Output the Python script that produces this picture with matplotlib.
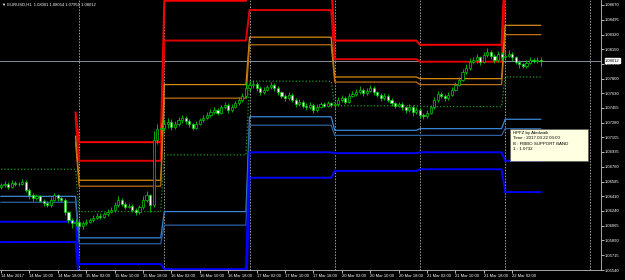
import numpy as np
import matplotlib.pyplot as plt
from matplotlib.patches import Rectangle

plt.rcParams['font.family'] = ['Liberation Sans', 'DejaVu Sans']

# EURUSD H1 candles, bar 0 = 14 Mar 2017 02:00
first_open = 1.0652
closes = [1.0654, 1.0656, 1.0652, 1.0657, 1.0655, 1.0656, 1.0658, 1.0649, 1.0642, 1.0639,
          1.0641, 1.0636, 1.0633, 1.0631, 1.0637, 1.0642, 1.0639, 1.0637, 1.0622, 1.0613,
          1.0609, 1.0611, 1.0606, 1.0609, 1.0611, 1.0613, 1.0616, 1.0618, 1.0617, 1.0620,
          1.0623, 1.0625, 1.0631, 1.0637, 1.0632, 1.0629, 1.0630, 1.0625, 1.0623, 1.0628,
          1.0637, 1.0642, 1.0631, 1.0708, 1.0720, 1.0722, 1.0726, 1.0729, 1.0723, 1.0727,
          1.0731, 1.0734, 1.0730, 1.0726, 1.0722, 1.0727, 1.0731, 1.0734, 1.0737, 1.0741,
          1.0743, 1.0740, 1.0746, 1.0749, 1.0743, 1.0747, 1.0751, 1.0755, 1.0760, 1.0769,
          1.0772, 1.0774, 1.0769, 1.0764, 1.0767, 1.0770, 1.0773, 1.0769, 1.0764, 1.0760,
          1.0757, 1.0761, 1.0755, 1.0750, 1.0753, 1.0748, 1.0746, 1.0749, 1.0743, 1.0747,
          1.0750, 1.0748, 1.0751, 1.0749, 1.0750, 1.0755, 1.0757, 1.0753, 1.0760, 1.0762,
          1.0764, 1.0767, 1.0763, 1.0766, 1.0769, 1.0764, 1.0761, 1.0757, 1.0760, 1.0755,
          1.0751, 1.0748, 1.0750, 1.0746, 1.0743, 1.0747, 1.0741, 1.0743, 1.0737, 1.0736,
          1.0740, 1.0746, 1.0755, 1.0762, 1.0760, 1.0757, 1.0761, 1.0767, 1.0773, 1.0779,
          1.0788, 1.0793, 1.0800, 1.0802, 1.0805, 1.0800, 1.0808, 1.0812, 1.0807, 1.0802,
          1.0809, 1.0806, 1.0807, 1.0809, 1.0805, 1.0800, 1.0797, 1.0795, 1.0799, 1.0802,
          1.0801, 1.0802, 1.08012]
highs = [1.0657, 1.0659, 1.0658, 1.0660, 1.0659, 1.0658, 1.0662, 1.0660, 1.0651, 1.0645,
         1.0644, 1.0643, 1.0638, 1.0635, 1.0640, 1.0645, 1.0644, 1.0641, 1.0639, 1.0624,
         1.0616, 1.0614, 1.0613, 1.0612, 1.0614, 1.0616, 1.0619, 1.0621, 1.0621, 1.0623,
         1.0626, 1.0629, 1.0634, 1.0641, 1.0639, 1.0634, 1.0633, 1.0632, 1.0627, 1.0631,
         1.0641, 1.0647, 1.0644, 1.0718, 1.0726, 1.0728, 1.0731, 1.0733, 1.0732, 1.0730,
         1.0735, 1.0737, 1.0736, 1.0732, 1.0728, 1.0730, 1.0734, 1.0737, 1.0741, 1.0744,
         1.0747, 1.0745, 1.0749, 1.0753, 1.0751, 1.0750, 1.0754, 1.0758, 1.0763, 1.0776,
         1.0777, 1.0778, 1.0776, 1.0771, 1.0770, 1.0773, 1.0776, 1.0775, 1.0771, 1.0766,
         1.0762, 1.0764, 1.0763, 1.0757, 1.0756, 1.0755, 1.0751, 1.0752, 1.0751, 1.0750,
         1.0753, 1.0752, 1.0754, 1.0753, 1.0753, 1.0758, 1.0761, 1.0759, 1.0763, 1.0766,
         1.0768, 1.0771, 1.0769, 1.0769, 1.0773, 1.0771, 1.0766, 1.0763, 1.0763, 1.0762,
         1.0757, 1.0753, 1.0753, 1.0752, 1.0748, 1.0750, 1.0749, 1.0746, 1.0745, 1.0740,
         1.0743, 1.0749, 1.0758, 1.0765, 1.0764, 1.0762, 1.0764, 1.0770, 1.0776, 1.0782,
         1.0791, 1.0797, 1.0804, 1.0806, 1.0809, 1.0807, 1.0812, 1.0816, 1.0814, 1.0809,
         1.0813, 1.0812, 1.0813, 1.0814, 1.0811, 1.0807, 1.0802, 1.0799, 1.0802, 1.0805,
         1.0804, 1.0805, 1.0805]
lows = [1.0650, 1.0652, 1.0650, 1.0651, 1.0653, 1.0653, 1.0654, 1.0646, 1.0638, 1.0636,
        1.0637, 1.0634, 1.0630, 1.0628, 1.0629, 1.0635, 1.0636, 1.0634, 1.0619, 1.0610,
        1.0604, 1.0606, 1.0601, 1.0603, 1.0607, 1.0609, 1.0611, 1.0614, 1.0614, 1.0615,
        1.0618, 1.0621, 1.0623, 1.0629, 1.0630, 1.0626, 1.0627, 1.0622, 1.0619, 1.0620,
        1.0626, 1.0634, 1.0622, 1.0628, 1.0703, 1.0714, 1.0718, 1.0722, 1.0719, 1.0720,
        1.0724, 1.0728, 1.0727, 1.0723, 1.0719, 1.0720, 1.0725, 1.0729, 1.0732, 1.0735,
        1.0738, 1.0737, 1.0738, 1.0744, 1.0740, 1.0741, 1.0745, 1.0749, 1.0752, 1.0757,
        1.0766, 1.0769, 1.0766, 1.0761, 1.0762, 1.0765, 1.0768, 1.0766, 1.0761, 1.0757,
        1.0754, 1.0755, 1.0752, 1.0747, 1.0748, 1.0745, 1.0743, 1.0744, 1.0740, 1.0741,
        1.0745, 1.0746, 1.0746, 1.0747, 1.0745, 1.0748, 1.0753, 1.0750, 1.0751, 1.0758,
        1.0760, 1.0762, 1.0760, 1.0761, 1.0764, 1.0761, 1.0758, 1.0754, 1.0755, 1.0752,
        1.0748, 1.0745, 1.0746, 1.0743, 1.0740, 1.0741, 1.0736, 1.0738, 1.0733, 1.0732,
        1.0734, 1.0738, 1.0744, 1.0753, 1.0757, 1.0754, 1.0755, 1.0759, 1.0765, 1.0771,
        1.0777, 1.0785, 1.0790, 1.0797, 1.0799, 1.0796, 1.0798, 1.0805, 1.0803, 1.0798,
        1.0800, 1.0802, 1.0803, 1.0805, 1.0801, 1.0797, 1.0793, 1.0792, 1.0793, 1.0797,
        1.0798, 1.0799, 1.0795]

# Fibo band levels, one value per trading day (14, 15, 16, 17, 20, 21, 22 Mar)
day_lengths = [22, 24, 24, 24, 24, 24, 11]
red_1 = [1.0740, 1.0705, 1.0872, 1.0892, 1.0825, 1.0820, 1.0918]
red_2 = [1.0734, 1.0683, 1.0825, 1.0861, 1.0803, 1.0800, 1.0881]
orange_1 = [1.0712, 1.0660, 1.0773, 1.0829, 1.0782, 1.0780, 1.0843]
orange_2 = [1.0705, 1.0653, 1.0757, 1.0820, 1.0776, 1.0773, 1.0832]
pivot = [1.0673, 1.0623, 1.0690, 1.0777, 1.0748, 1.0747, 1.0782]
support_1 = [1.0641, 1.0592, 1.0623, 1.0735, 1.0719, 1.0721, 1.0732]
support_2 = [1.0634, 1.0585, 1.0607, 1.0725, 1.0713, 1.0713, 1.0721]
blue_1 = [1.0611, 1.0561, 1.0555, 1.0693, 1.0692, 1.0693, 1.0683]
blue_2 = [1.0587, 1.0539, 1.0508, 1.0663, 1.0671, 1.0673, 1.0646]

separators = [22, 46, 70, 94, 118, 142, 166]
current_price = 1.08012

price_ticks = [1.05540, 1.05715, 1.05890, 1.06065, 1.06240, 1.06410, 1.06585, 1.06760,
               1.06935, 1.07105, 1.07280, 1.07455, 1.07630, 1.07800, 1.07975, 1.08150,
               1.08320, 1.08495, 1.08670]
time_ticks = list(range(0, 145, 8))
time_labels = ['14 Mar 2017', '14 Mar 10:00', '14 Mar 18:00', '15 Mar 02:00', '15 Mar 10:00',
               '15 Mar 18:00', '16 Mar 02:00', '16 Mar 10:00', '16 Mar 18:00', '17 Mar 02:00',
               '17 Mar 10:00', '17 Mar 18:00', '20 Mar 02:00', '20 Mar 10:00', '20 Mar 18:00',
               '21 Mar 02:00', '21 Mar 10:00', '21 Mar 18:00', '22 Mar 02:00']

closes = np.array(closes)
opens = np.r_[first_open, closes[:-1]]
bars = np.arange(len(closes))

fig = plt.figure(figsize=(6.25, 2.8), dpi=100, facecolor='black')
ax = fig.add_axes([0, 10 / 280, 601 / 625, 270 / 280], facecolor='black')

# band lines (upper bands of first day only show on its last bar)
bands = [(red_1, '#ff0000', 1.4, '-', True), (red_2, '#e00000', 1.4, '-', True),
         (orange_1, '#d88a10', 0.9, '-', True), (orange_2, '#c07010', 0.9, '-', True),
         (pivot, '#1f9a1f', 0.9, ':', False), (support_1, '#3a86d6', 0.9, '-', False),
         (support_2, '#2c5f9e', 0.9, '-', False), (blue_1, '#0000ff', 1.4, '-', False),
         (blue_2, '#0000ff', 1.4, '-', False)]
for levels, col, lw, ls, upper in bands:
    serie = np.repeat(levels, day_lengths)
    if upper:
        serie[:21] = np.nan
    ax.plot(np.arange(len(serie)), serie, color=col, lw=lw, ls=ls, zorder=2)

for s in separators:
    ax.axvline(s, color='#a0a0a0', lw=0.7, ls=(0, (1.5, 1.5)), zorder=1)

ax.axhline(current_price, color='#8090a0', lw=0.7, zorder=1)

# candles
green = '#00d000'
ax.vlines(bars, lows, highs, color=green, lw=0.6, zorder=3)
body_low = np.minimum(opens, closes)
body_h = np.maximum(np.abs(closes - opens), 0.00003)
body_col = np.where(closes >= opens, 'black', 'white')
ax.bar(bars, body_h, bottom=body_low, width=0.6, color=body_col, edgecolor=green,
       linewidth=0.5, zorder=4)

ax.set_xlim(-0.28, 169.0)
ax.set_ylim(1.05540, 1.08729)

ax.yaxis.tick_right()
ax.set_yticks(price_ticks)
ax.set_yticklabels([f'{p:.5f}' for p in price_ticks])
ax.set_xticks(time_ticks)
ax.set_xticklabels(time_labels)
for lab in ax.get_xticklabels():
    lab.set_horizontalalignment('left')
ax.tick_params(colors='white', labelsize=3, length=2, width=0.5, pad=1)
for side in ['top', 'left']:
    ax.spines[side].set_visible(False)
for side in ['right', 'bottom']:
    ax.spines[side].set_color('#c0c0c0')
    ax.spines[side].set_linewidth(0.6)

ax.annotate(f'{current_price:.5f}', xy=(1.0, current_price), xycoords=('axes fraction', 'data'),
            xytext=(3, 0), textcoords='offset points', va='center', ha='left', fontsize=3,
            color='black', bbox=dict(boxstyle='square,pad=0.15', fc='white', ec='white'),
            annotation_clip=False, zorder=6)

ax.text(0.004, 0.99, '\u25bc EURUSD,H1  1.08001 1.08054 1.07951 1.08012', transform=ax.transAxes,
        color='white', fontsize=3, va='top', ha='left', zorder=6)

# tooltip box
ax.add_patch(Rectangle((510 / 601, 1 - 161 / 270), 78 / 601, 32 / 270, transform=ax.transAxes,
                       fc='#ffffe1', ec='#606060', lw=0.5, zorder=6))
ax.text(513 / 601, 1 - 131 / 270, 'HPFZ by Abolwaik\nTime : 2017.03.22 03:00\nB : FIBBO SUPPORT BAND\n1 : 1.0732',
        transform=ax.transAxes, fontsize=3.2, color='black', va='top', ha='left',
        linespacing=1.45, zorder=7)

fig.savefig('out.png', dpi=100, facecolor='black')
